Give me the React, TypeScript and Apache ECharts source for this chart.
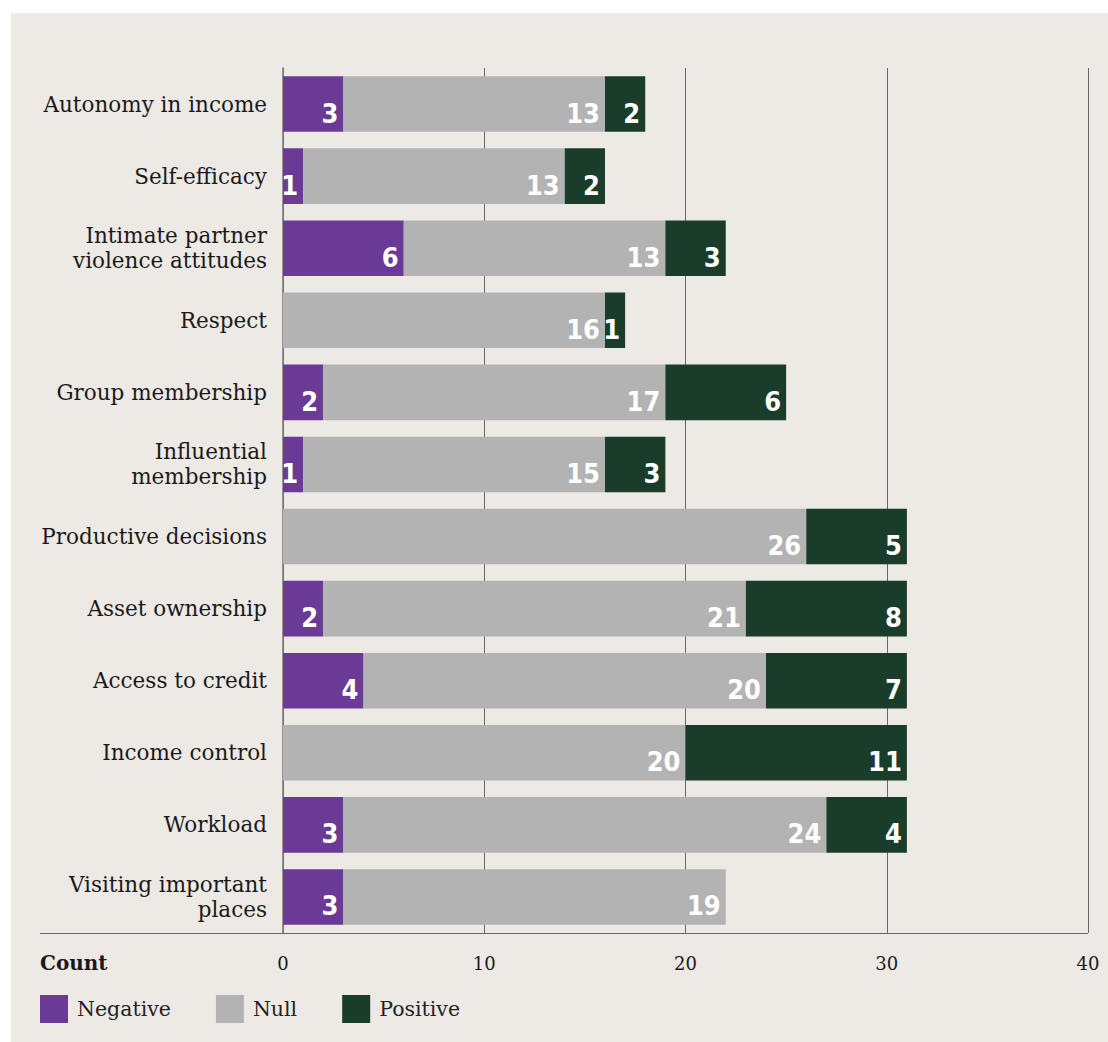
import React, { useEffect, useRef } from "react";
import * as echarts from "echarts";

const categories = [
  "Autonomy in income",
  "Self-efficacy",
  "Intimate partner\nviolence attitudes",
  "Respect",
  "Group membership",
  "Influential\nmembership",
  "Productive decisions",
  "Asset ownership",
  "Access to credit",
  "Income control",
  "Workload",
  "Visiting important\nplaces",
];
const negativeValues = [3, 1, 6, 0, 2, 1, 0, 2, 4, 0, 3, 3];
const nullValues = [13, 13, 13, 16, 17, 15, 26, 21, 20, 20, 24, 19];
const positiveValues = [2, 2, 3, 1, 6, 3, 5, 8, 7, 11, 4, 0];
const xTicks = [0, 10, 20, 30, 40];

const BG = "#EDE9E5";
const SERIF = "'DejaVu Serif', 'Liberation Serif', serif";
const COND = "'Liberation Sans Narrow', 'Arial Narrow', 'DejaVu Sans Condensed', sans-serif";

export default function App() {
  const ref = useRef<HTMLDivElement>(null);
  useEffect(() => {
    document.body.style.margin = "0";
    const chart = echarts.init(ref.current!, null, { renderer: "svg" });
    const label = {
      show: true,
      position: "insideRight" as const,
      distance: 5,
      offset: [0, 9],
      color: "#ffffff",
      fontFamily: COND,
      fontWeight: "bold" as const,
      fontSize: 27,
      formatter: (p: any) => (p.value ? String(p.value) : ""),
    };
    const mk = (name: string, data: number[], color: string) => ({
      name,
      type: "bar",
      stack: "total",
      data,
      barWidth: "77%",
      itemStyle: { color },
      label,
      emphasis: { disabled: true },
    });
    chart.setOption({
      animation: false,
      backgroundColor: "#ffffff",
      graphic: [
        {
          type: "rect",
          z: -10,
          silent: true,
          shape: { x: 11, y: 13, width: 1097, height: 1029 },
          style: { fill: BG },
        },
        {
          type: "line",
          z: 10,
          silent: true,
          shape: { x1: 40, y1: 933.5, x2: 1088, y2: 933.5 },
          style: { stroke: "#666666", lineWidth: 1 },
        },
        {
          type: "text",
          left: 40,
          top: 953,
          style: {
            text: "Count",
            font: `bold 20px ${SERIF}`,
            fill: "#1a1a1a",
          },
        },
      ],
      legend: {
        left: 40,
        top: 995,
        padding: 0,
        itemWidth: 28,
        itemHeight: 28,
        itemGap: 45,
        icon: "rect",
        selectedMode: false,
        textStyle: { fontFamily: SERIF, fontSize: 20.5, color: "#222222", padding: [0, 0, 0, 4] },
        data: ["Negative", "Null", "Positive"],
      },
      grid: { left: 283, right: 20, top: 68, bottom: 109, containLabel: false },
      xAxis: {
        type: "value",
        min: 0,
        max: 40,
        interval: 10,
        axisLine: { show: false },
        axisTick: { show: false },
        splitLine: { show: true, lineStyle: { color: "#666666", width: 1 } },
        axisLabel: {
          margin: 21,
          fontFamily: SERIF,
          fontSize: 18,
          color: "#1a1a1a",
          formatter: (v: number) => (xTicks.includes(v) ? String(v) : ""),
        },
      },
      yAxis: {
        type: "category",
        inverse: true,
        data: categories,
        axisLine: { show: true, lineStyle: { color: "#777777", width: 1.5 } },
        axisTick: { show: false },
        axisLabel: {
          margin: 16,
          fontFamily: SERIF,
          fontSize: 21.5,
          lineHeight: 25,
          color: "#1a1a1a",
          align: "right",
        },
      },
      series: [
        mk("Negative", negativeValues, "#6B3A96"),
        mk("Null", nullValues, "#B3B3B3"),
        mk("Positive", positiveValues, "#193D2A"),
      ],
    });
    return () => chart.dispose();
  }, []);
  return <div ref={ref} style={{ width: 1108, height: 1042 }} />;
}
